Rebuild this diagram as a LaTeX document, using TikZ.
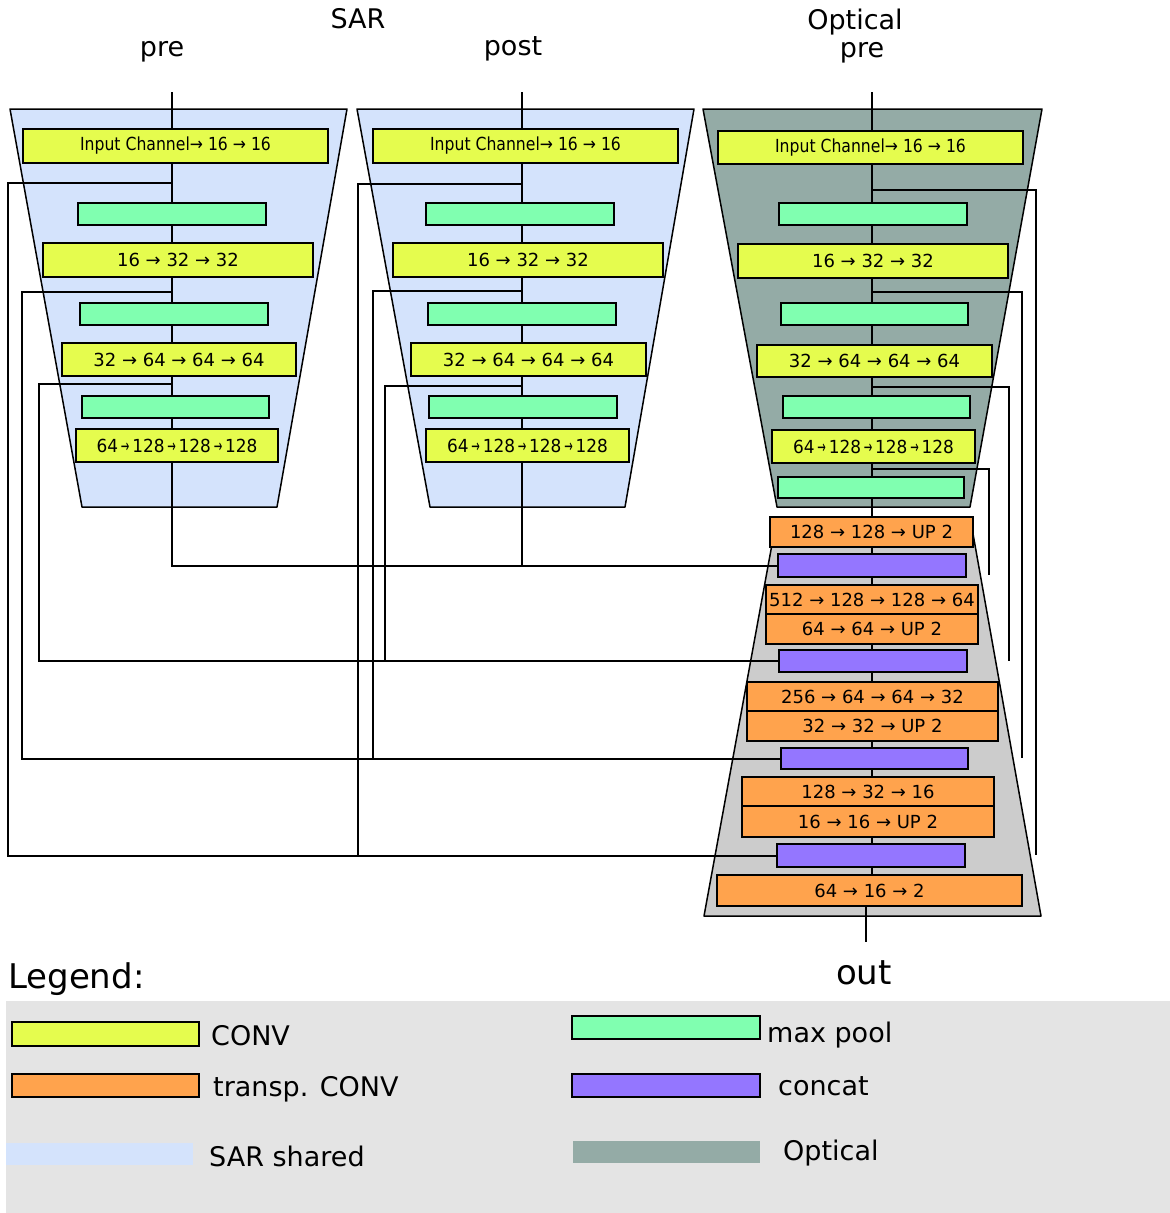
\documentclass[tikz,border=0pt]{standalone}
\usepackage{fontspec}
\setmainfont{DejaVu Sans}
\definecolor{convc}{RGB}{229,252,78}
\definecolor{poolc}{RGB}{128,255,176}
\definecolor{upc}{RGB}{255,163,77}
\definecolor{catc}{RGB}{148,118,255}
\definecolor{sarc}{RGB}{212,227,252}
\definecolor{optc}{RGB}{148,171,166}
\definecolor{decc}{RGB}{204,204,204}
\definecolor{legc}{RGB}{228,228,228}
\pgfdeclarelayer{back}
\pgfdeclarelayer{wires}
\pgfsetlayers{back,wires,main}
\tikzset{
 blk/.style={draw=black, line width=2.7pt, inner sep=0pt, font=\fontsize{18}{20}\selectfont},
 convbox/.style={blk, fill=convc},
 poolbox/.style={blk, fill=poolc},
 upbox/.style={blk, fill=upc},
 catbox/.style={blk, fill=catc},
 trap/.style={draw=black, line width=1.5pt, line join=round},
 wire/.style={draw=black, line width=2pt},
 title/.style={font=\fontsize{27}{30}\selectfont, anchor=base, inner sep=0pt},
 bigtitle/.style={font=\fontsize{34}{36}\selectfont, inner sep=0pt},
 legtext/.style={font=\fontsize{27}{30}\selectfont, anchor=base west, inner sep=0pt},
}
\newcommand\bx[7]{\node[#1, minimum width={#5-#3}, minimum height={#6-#4}] (#2) at ({(#3+#5)/2},{(#4+#6)/2}) {#7};}
\newcommand\cnd[2]{\scalebox{#1}[1]{#2}}
\newcommand\sra{\,\scalebox{0.6}[1]{→}\,}
\newcommand\bigtxt{\cnd{0.94}{64\sra 128\sra 128\sra 128}}
\newcommand\intxt{\cnd{0.87}{Input Channel→ 16 → 16}}
\begin{document}
\begin{tikzpicture}[x=1pt,y=-1pt]
\useasboundingbox (0,0) rectangle (1170,1213);
\begin{pgfonlayer}{back}
\fill[legc] (6,1001) rectangle (1170,1213);
\filldraw[trap, fill=sarc] (10,109) -- (347,109) -- (277,507) -- (82,507) -- cycle;
\filldraw[trap, fill=sarc] (357,109) -- (694,109) -- (625,507) -- (430,507) -- cycle;
\filldraw[trap, fill=optc] (703,109) -- (1042,109) -- (970,507) -- (777,507) -- cycle;
\filldraw[trap, fill=decc] (777,517) -- (970,517) -- (1041,916) -- (704,916) -- cycle;
\end{pgfonlayer}

% titles
\node[title] (tsar) at (358,28) {SAR};
\node[title] (tpre1) at (162,56) {pre};
\node[title] (tpost) at (513,55) {post};
\node[title] (topt) at (855,29) {Optical};
\node[title] (tpre2) at (862,57) {pre};

% encoder SAR pre
\bx{convbox}{a1}{23}{129}{328}{163}{\intxt}
\bx{poolbox}{a2}{78}{203}{266}{225}{}
\bx{convbox}{a3}{43}{243}{313}{277}{16 → 32 → 32}
\bx{poolbox}{a4}{80}{303}{268}{325}{}
\bx{convbox}{a5}{62}{343}{296}{376}{32 → 64 → 64 → 64}
\bx{poolbox}{a6}{82}{396}{269}{418}{}
\bx{convbox}{a7}{76}{429}{278}{462}{\bigtxt}

% encoder SAR post
\bx{convbox}{b1}{373}{129}{678}{163}{\intxt}
\bx{poolbox}{b2}{426}{203}{614}{225}{}
\bx{convbox}{b3}{393}{243}{663}{277}{16 → 32 → 32}
\bx{poolbox}{b4}{428}{303}{616}{325}{}
\bx{convbox}{b5}{411}{343}{646}{376}{32 → 64 → 64 → 64}
\bx{poolbox}{b6}{429}{396}{617}{418}{}
\bx{convbox}{b7}{426}{429}{629}{462}{\bigtxt}

% encoder optical
\bx{convbox}{c1}{718}{131}{1023}{164}{\intxt}
\bx{poolbox}{c2}{779}{203}{967}{225}{}
\bx{convbox}{c3}{738}{244}{1008}{278}{16 → 32 → 32}
\bx{poolbox}{c4}{781}{303}{968}{325}{}
\bx{convbox}{c5}{757}{345}{992}{377}{32 → 64 → 64 → 64}
\bx{poolbox}{c6}{783}{396}{970}{418}{}
\bx{convbox}{c7}{772}{430}{975}{463}{\bigtxt}
\bx{poolbox}{c8}{778}{477}{964}{498}{}

% decoder
\bx{upbox}{d1}{770}{517}{973}{547}{128 → 128 → UP 2}
\bx{catbox}{k1}{778}{554}{966}{577}{}
\bx{upbox}{d2}{766}{585}{978}{614}{512 → 128 → 128 → 64}
\bx{upbox}{d3}{766}{614}{978}{644}{64 → 64 → UP 2}
\bx{catbox}{k2}{779}{650}{967}{672}{}
\bx{upbox}{d4}{747}{682}{998}{711}{256 → 64 → 64 → 32}
\bx{upbox}{d5}{747}{711}{998}{741}{32 → 32 → UP 2}
\bx{catbox}{k3}{781}{748}{968}{769}{}
\bx{upbox}{d6}{742}{777}{994}{806}{128 → 32 → 16}
\bx{upbox}{d7}{742}{806}{994}{837}{16 → 16 → UP 2}
\bx{catbox}{k4}{777}{844}{965}{867}{}
\bx{upbox}{d8}{717}{875}{1022}{906}{64 → 16 → 2}

% coordinates
\coordinate (in1) at (172,92);
\coordinate (in2) at (522,92);
\coordinate (in3) at (872,92);
\coordinate (outp) at (866,942);
\coordinate (p1) at (172,183);
\coordinate (p2) at (172,292);
\coordinate (p3) at (172,384);
\coordinate (q1) at (522,184);
\coordinate (q2) at (522,291);
\coordinate (q3) at (522,386);
\coordinate (r1) at (872,190);
\coordinate (r2) at (872,292);
\coordinate (r3) at (872,387);
\coordinate (r4) at (872,469);
\coordinate (e1) at (1036,855);
\coordinate (e2) at (1022,758);
\coordinate (e3) at (1009,661);
\coordinate (e4) at (989,575);

\begin{pgfonlayer}{wires}
\draw[wire] (in1) |- (k1.west);
\draw[wire] (in2) |- (k1.west);
\draw[wire] (in3) -- (in3 |- d1.north);
\draw[wire] (d1.center) -- (d1.center |- d8.center);
\draw[wire] (d8.south -| outp) -- (outp);
\draw[wire] (p1) -- (8,183) |- (k4.west);
\draw[wire] (p2) -- (22,292) |- (k3.west);
\draw[wire] (p3) -- (39,384) |- (k2.west);
\draw[wire] (q1) -- (358,184) |- (k4.west);
\draw[wire] (q2) -- (373,291) |- (k3.west);
\draw[wire] (q3) -- (385,386) |- (k2.west);
\draw[wire] (r1) -| (e1);
\draw[wire] (r2) -| (e2);
\draw[wire] (r3) -| (e3);
\draw[wire] (r4) -| (e4);
\end{pgfonlayer}

% bottom labels
\node[bigtitle, anchor=base west] (tleg) at (8,988) {Legend:};
\node[bigtitle, anchor=base] (tout) at (864,984) {out};

% legend
\bx{convbox}{L1}{12}{1022}{199}{1046}{}
\bx{upbox}{L2}{12}{1074}{199}{1097}{}
\bx{fill=sarc,inner sep=0pt}{L3}{6}{1143}{193}{1165}{}
\bx{poolbox}{L4}{572}{1016}{760}{1039}{}
\bx{catbox}{L5}{572}{1074}{760}{1097}{}
\bx{fill=optc,inner sep=0pt}{L6}{573}{1141}{760}{1163}{}
\node[legtext] (l1t) at (211,1045) {CONV};
\node[legtext] (l2t) at (213,1096) {transp. CONV};
\node[legtext] (l3t) at (209,1166) {SAR shared};
\node[legtext] (l4t) at (767,1042) {max pool};
\node[legtext] (l5t) at (778,1095) {concat};
\node[legtext] (l6t) at (783,1160) {Optical};
\end{tikzpicture}
\end{document}
